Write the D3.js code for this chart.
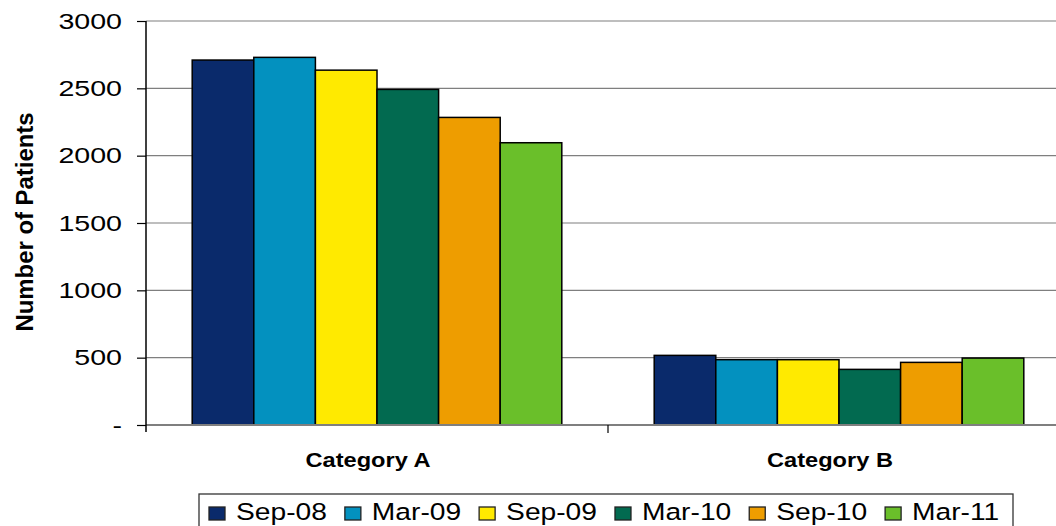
<!DOCTYPE html>
<html>
<head>
<meta charset="utf-8">
<script src="https://cdn.jsdelivr.net/npm/d3@7"></script>
<style>
  body { margin: 0; background: #fff; }
  svg { display: block; }
</style>
</head>
<body>
<script>
var categories = ["Category A", "Category B"];
var seriesNames = ["Sep-08", "Mar-09", "Sep-09", "Mar-10", "Sep-10", "Mar-11"];
var seriesColors = ["#0a2a6b", "#0391bf", "#ffea00", "#026a50", "#ee9d00", "#6abf2a"];
var categoryA = [2710, 2730, 2635, 2492, 2284, 2096];
var categoryB = [517, 485, 485, 413, 465, 497];
var yTicks = [0, 500, 1000, 1500, 2000, 2500, 3000];

var W = 1056, H = 526;
var font = "Liberation Sans, Arial, sans-serif";

var svg = d3.select("body").append("svg")
    .attr("width", W)
    .attr("height", H);

// stretch text horizontally like the reference
function widen(sel, k) {
    sel.each(function () {
        var len = this.getComputedTextLength();
        d3.select(this).attr("textLength", len * k).attr("lengthAdjust", "spacingAndGlyphs");
    });
}

var y = d3.scaleLinear().domain([0, 3000]).range([425, 21]);
// plot area runs past the right edge of the picture
var x0 = d3.scaleBand().domain(categories).range([146, 1070]);
// six bars with a gap of 1.5 bar widths between groups
var x1 = d3.scaleBand().domain(seriesNames)
    .range([x0.bandwidth() * 0.75 / 7.5, x0.bandwidth() * 6.75 / 7.5]);

var rows = [categoryA, categoryB];

// gridlines
svg.append("g").selectAll("line")
    .data(yTicks.filter(function (d) { return d > 0; }))
    .enter().append("line")
    .attr("x1", 146).attr("x2", W)
    .attr("y1", function (d) { return y(d); })
    .attr("y2", function (d) { return y(d); })
    .attr("stroke", "#7f7f7f")
    .attr("stroke-width", 1.2);

// bars
var groups = svg.append("g").selectAll("g")
    .data(categories)
    .enter().append("g")
    .attr("transform", function (d) { return "translate(" + x0(d) + ",0)"; });

groups.selectAll("rect")
    .data(function (d, i) { return rows[i].map(function (v, j) { return { k: seriesNames[j], v: v, c: seriesColors[j] }; }); })
    .enter().append("rect")
    .attr("x", function (d) { return x1(d.k); })
    .attr("width", x1.bandwidth())
    .attr("y", function (d) { return y(d.v); })
    .attr("height", function (d) { return y(0) - y(d.v); })
    .attr("fill", function (d) { return d.c; })
    .attr("stroke", "#000")
    .attr("stroke-width", 1.5);

// x axis line
svg.append("line").attr("x1", 146).attr("x2", W).attr("y1", y(0)).attr("y2", y(0))
    .attr("stroke", "#7f7f7f").attr("stroke-width", 2);

// y axis
var yAxis = d3.axisLeft(y).tickValues(yTicks).tickSize(9).tickPadding(15)
    .tickFormat(function (d) { return d === 0 ? "-" : d; });
var ya = svg.append("g").attr("transform", "translate(146,0)").call(yAxis);
ya.select(".domain").attr("stroke", "#000").attr("stroke-width", 1.5).attr("d", "M0,21V432");
ya.selectAll(".tick line").attr("stroke", "#000").attr("stroke-width", 1.2);
ya.selectAll("text").attr("font-family", font)
    .attr("font-size", 22).attr("fill", "#000");
widen(ya.selectAll(".tick text"), 1.3);

// category ticks
svg.selectAll(".xtick")
    .data([x0.range()[0] + x0.step()])
    .enter().append("line")
    .attr("x1", function (d) { return d; }).attr("x2", function (d) { return d; })
    .attr("y1", y(0)).attr("y2", y(0) + 8)
    .attr("stroke", "#000").attr("stroke-width", 1.2);

var cl = svg.append("g").selectAll("text")
    .data(categories)
    .enter().append("text")
    .attr("x", function (d) { return x0(d) + x0.bandwidth() / 2 - 9; })
    .attr("y", 467)
    .attr("text-anchor", "middle")
    .attr("font-family", font)
    .attr("font-weight", "bold")
    .attr("font-size", 20)
    .text(function (d) { return d; });
widen(cl, 1.18);

// y title
svg.append("text")
    .attr("transform", "translate(33,222) rotate(-90)")
    .attr("text-anchor", "middle")
    .attr("font-family", font)
    .attr("font-weight", "bold")
    .attr("font-size", 24)
    .attr("textLength", 219)
    .attr("lengthAdjust", "spacingAndGlyphs")
    .text("Number of Patients");

// legend
var leg = svg.append("g");
var lx = 209, ly = 507;
var items = leg.selectAll("g").data(seriesNames).enter().append("g");
items.each(function (d, i) {
    var g = d3.select(this);
    g.append("rect").attr("x", lx).attr("y", ly).attr("width", 16).attr("height", 13)
        .attr("fill", seriesColors[i]).attr("stroke", "#222").attr("stroke-width", 1.3);
    var t = g.append("text").attr("x", lx + 27).attr("y", 520)
        .attr("font-family", font)
        .attr("font-size", 24.5).text(d);
    widen(t, 1.15);
    lx += 27 + (+t.attr("textLength")) + 18;
});
leg.insert("rect", ":first-child")
    .attr("x", 199).attr("y", 494).attr("width", 814).attr("height", 40)
    .attr("fill", "#fff").attr("stroke", "#333").attr("stroke-width", 1.3);
</script>
</body>
</html>
